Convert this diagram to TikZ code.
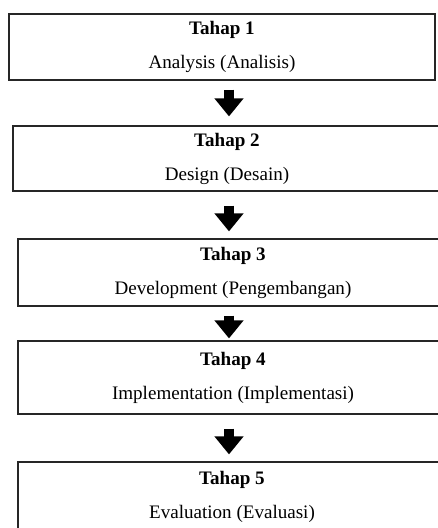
\documentclass[tikz,border=0pt]{standalone}
\usepackage{fontspec}
\setmainfont{Liberation Serif}
\usetikzlibrary{arrows.meta}

\begin{document}
\begin{tikzpicture}[x=0.75pt,y=-0.75pt,
  stage/.style={draw=black!85, line width=0.9pt, align=center, inner sep=0pt,
    font=\fontsize{14.3pt}{25.5pt}\selectfont},
  flow/.style={line width=7.5pt, -{Triangle[length=13.5pt,width=21pt]}},
]
\useasboundingbox (0,0) rectangle (437,528);

\node[stage, minimum width=319.5pt, minimum height=49.5pt] (b1) at (222,47)
  {\textbf{Tahap 1}\\Analysis (Analisis)};
\node[stage, minimum width=321pt, minimum height=48.75pt] (b2) at (227,158.5)
  {\textbf{Tahap 2}\\Design (Desain)};
\node[stage, minimum width=322.5pt, minimum height=50.25pt] (b3) at (233,272.5)
  {\textbf{Tahap 3}\\Development (Pengembangan)};
\node[stage, minimum width=322.5pt, minimum height=54.75pt] (b4) at (233,377.5)
  {\textbf{Tahap 4}\\Implementation (Implementasi)};
\node[stage, minimum width=321pt, minimum height=52.5pt] (b5) at (232,497)
  {\textbf{Tahap 5}\\Evaluation (Evaluasi)};

\coordinate (axis) at (229,0);

% arrows between the stages
\foreach \a/\b/\s/\e in {b1/b2/6.75pt/6.75pt, b2/b3/10.5pt/5.25pt,
                         b3/b4/6.75pt/1.5pt, b4/b5/10.5pt/5.25pt}
  \draw[flow, shorten <=\s, shorten >=\e] (\a.south -| axis) -- (\b.north -| axis);

\end{tikzpicture}
\end{document}
